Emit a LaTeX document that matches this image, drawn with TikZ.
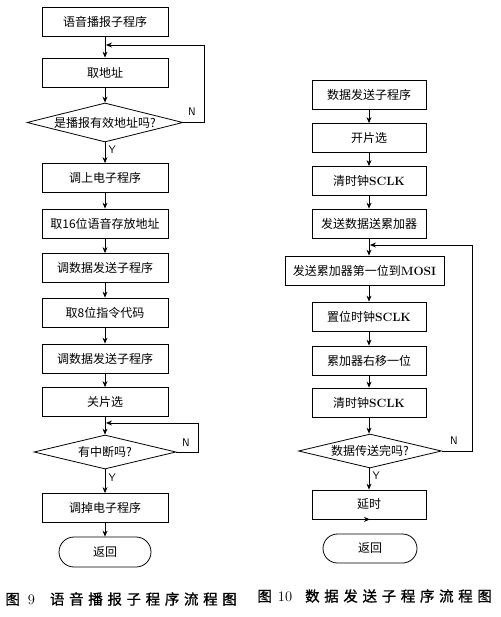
\documentclass[tikz,border=0pt]{standalone}
\usepackage{fontspec}
\newfontfamily\cjk{Noto Sans CJK SC}
\newfontfamily\cjkwide[LetterSpace=32,FakeBold=1]{Noto Sans CJK SC}
\usetikzlibrary{shapes.geometric,shapes.misc,arrows.meta,positioning,calc}
\newcommand{\lat}[1]{{\normalfont\bfseries #1}}
\newcommand{\capnum}[1]{{\normalfont\fontsize{14.5}{16}\selectfont #1}}

\begin{document}
\begin{tikzpicture}[x=1pt,y=-1pt,
    line width=0.8pt,
    font=\cjk\fontsize{12}{13}\selectfont,
    procbox/.style={draw,rectangle,minimum width=126pt,minimum height=29pt,inner sep=0pt},
    rprocbox/.style={procbox,minimum width=114pt},
    decision/.style={draw,diamond,inner sep=0pt},
    termbox/.style={draw,rounded rectangle,minimum width=92pt,minimum height=30pt,inner sep=0pt},
    flow/.style={-{Stealth[length=6pt,width=5pt]}},
    yn/.style={font=\sffamily\fontsize{11}{12}\selectfont},
    caption/.style={anchor=west,inner sep=0pt,font=\cjkwide\fontsize{14.5}{16}\selectfont}]
    \useasboundingbox (0,0) rectangle (500,617);

    % Left chart
    \node[procbox] (lstart) at (105,22) {语音播报子程序};
    \node[procbox] (laddr) at (105,72.5) {取地址};
    \node[decision,minimum width=156pt,minimum height=39pt,label={center:是播报有效地址吗?}] (lvalid) at (105,122.5) {};
    \node[procbox] (lpowerup) at (105,178) {调上电子程序};
    \node[procbox] (lget16) at (105,223.5) {取16位语音存放地址};
    \node[procbox] (lsend1) at (105,268) {调数据发送子程序};
    \node[procbox] (lget8) at (105,312.5) {取8位指令代码};
    \node[procbox] (lsend2) at (105,358.5) {调数据发送子程序};
    \node[procbox] (lcsoff) at (105,402) {关片选};
    \node[decision,minimum width=142pt,minimum height=34pt,label={center:有中断吗?}] (lirq) at (105,452) {};
    \node[procbox] (lpowerdown) at (105,508) {调掉电子程序};
    \node[termbox] (lret) at (105,552) {返回};

    \coordinate (lloop) at (106,45);
    \coordinate (lloop2) at (106,423);

    \draw[flow] (lstart) -- (laddr);
    \draw[flow] (laddr) -- (lvalid);
    \draw[flow] (lvalid) -- node[yn,right,pos=0.35] {Y} (lpowerup);
    \draw[flow] (lvalid.east) -- (204,122.5) -- (204,45) -- (lloop);
    \node[yn] at (192,112) {N};
    \draw[flow] (lpowerup) -- (lget16);
    \draw[flow] (lget16) -- (lsend1);
    \draw[flow] (lsend1) -- (lget8);
    \draw[flow] (lget8) -- (lsend2);
    \draw[flow] (lsend2) -- (lcsoff);
    \draw[flow] (lcsoff) -- (lirq);
    \draw[flow] (lirq.east) -- (198,452) -- (198,423) -- (lloop2);
    \node[yn] at (186,443) {N};
    \draw[flow] (lirq) -- node[yn,right,pos=0.35] {Y} (lpowerdown);
    \draw[flow] (lpowerdown) -- (lret);

    % Right chart
    \node[rprocbox] (rstart) at (369,95) {数据发送子程序};
    \node[rprocbox] (rcson) at (369,138) {开片选};
    \node[rprocbox] (rclr1) at (369,181) {清时钟\lat{SCLK}};
    \node[rprocbox] (rload) at (369,223.5) {发送数据送累加器};
    \node[procbox,minimum width=159pt] (rmosi) at (364.5,270.5) {发送累加器第一位到\lat{MOSI}};
    \node[rprocbox] (rset) at (369,316.5) {置位时钟\lat{SCLK}};
    \node[rprocbox] (rshift) at (369,360.5) {累加器右移一位};
    \node[rprocbox] (rclr2) at (369,402.5) {清时钟\lat{SCLK}};
    \node[decision,minimum width=143pt,minimum height=34pt,label={center:数据传送完吗?}] (rdone) at (370,451) {};
    \node[rprocbox] (rdelay) at (369,504.5) {延时};
    \node[termbox,minimum height=29pt,minimum width=94pt] (rret) at (370,548.5) {返回};

    \coordinate (rloop) at (370,245);

    \draw[flow] (rstart) -- (rcson);
    \draw[flow] (rcson) -- (rclr1);
    \draw[flow] (rclr1) -- (rload);
    \draw[flow] (rload) -- (rload.south |- rmosi.north);
    \draw[flow] (rmosi.south -| rset.north) -- (rset);
    \draw[flow] (rset) -- (rshift);
    \draw[flow] (rshift) -- (rclr2);
    \draw[flow] (rclr2) -- (rclr2.south |- rdone.north);
    \draw[flow] (rdone.east) -- (472,451) -- (472,245) -- (rloop);
    \node[yn] at (454,441) {N};
    \draw[flow] (rdone.south -| rdelay.north) -- node[yn,right,pos=0.35] {Y} (rdelay);
    \draw[flow] (rdelay) -- (rdelay.south -| rret.north);

    % Captions
    \node[caption] (lcap) at (5,599) {图\hspace{8pt}\capnum{9}\hspace{15pt}语音播报子程序流程图};
    \node[caption] (rcap) at (257,596) {图\hspace{6pt}\capnum{10}\hspace{13pt}数据发送子程序流程图};
\end{tikzpicture}
\end{document}
